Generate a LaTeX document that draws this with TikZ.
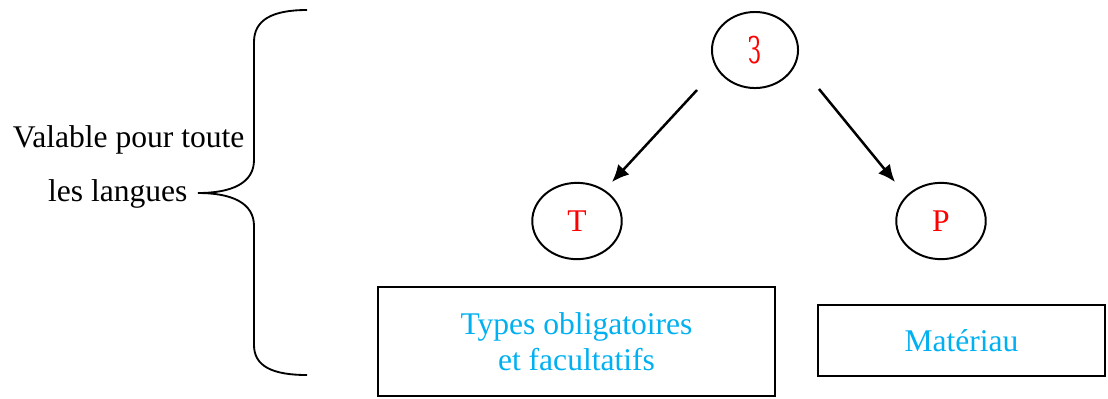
\documentclass[tikz,border=0pt]{standalone}
\usepackage{fontspec}
\usepackage{graphicx}
\setmainfont{Liberation Serif}
\newfontfamily\djserif{DejaVu Serif}
\usetikzlibrary{shapes.geometric,arrows.meta,calc}
\definecolor{lblue}{RGB}{0,176,240}
\definecolor{myred}{RGB}{255,0,0}
\begin{document}
\begin{tikzpicture}[x=0.38pt,y=-0.38pt,
  oval/.style={draw,ellipse,line width=0.75pt,inner sep=0pt,minimum width=34pt,minimum height=29pt,text=myred,font=\fontsize{12}{14}\selectfont},
  tbox/.style={draw,line width=0.75pt,inner sep=0pt,text=lblue,align=center,font=\fontsize{12}{13.5}\selectfont},
  arr/.style={line width=0.95pt,-{Latex[length=6.5pt,width=5.8pt]}},
  lbl/.style={inner sep=0pt,font=\fontsize{12}{14}\selectfont}]
\useasboundingbox (0,0) rectangle (1108,398);
% nodes
\node[oval,minimum width=32.7pt,minimum height=28.9pt,font=\djserif\fontsize{14}{15}\selectfont] (E) at (755,50) {\raisebox{-0.2pt}{\reflectbox{\scalebox{0.58}[1]{Ɛ}}}};
\node[oval] (T) at (577,221) {T};
\node[oval] (P) at (941,221) {P};
\node[tbox,minimum width=150.9pt,minimum height=41.4pt] (B1) at (576.5,341.5) {Types obligatoires\\et facultatifs};
\node[tbox,minimum width=109pt,minimum height=27pt] (B2) at (961.5,340.5) {Matériau};
% arrows
\draw[arr] ($(E.center)+(-58,40)$) -- ($(T.center)+(35,-39)$);
\draw[arr] ($(E.center)+(64,39)$) -- ($(P.center)+(-46,-39)$);
% labels
\node[lbl,anchor=base east] (L1) at (245,147) {Valable pour toute};
\node[lbl,anchor=base east] (L2) at (188,201) {les langues};
% brace
\coordinate (btop) at (307,10);
\coordinate (btip) at (198,193);
\coordinate (bbot) at (307,375);
\draw[line width=0.7pt] (btop) .. controls (272,10) and (254,20) .. (254,42)
  -- (254,160) .. controls (254,183) and (232,193) .. (btip)
  .. controls (232,193) and (254,203) .. (254,226)
  -- (254,345) .. controls (254,366) and (272,375) .. (bbot);
\end{tikzpicture}
\end{document}
